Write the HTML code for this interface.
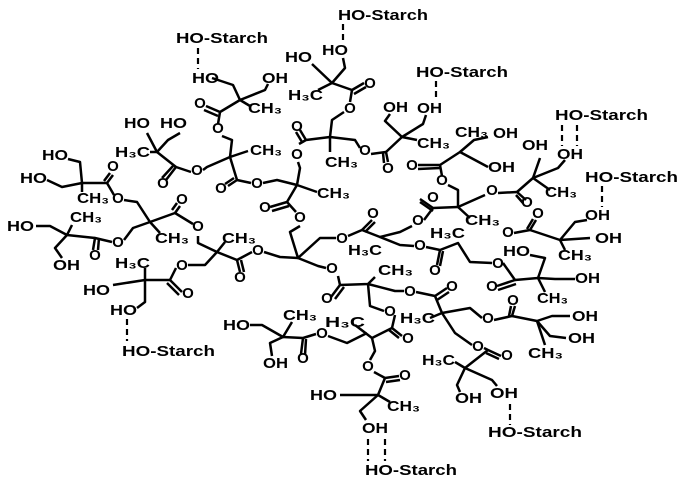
<!DOCTYPE html>
<html><head><meta charset="utf-8"><style>
html,body{margin:0;padding:0;background:#fff;width:691px;height:478px;overflow:hidden}
svg{display:block}
text{font-family:"Liberation Sans","DejaVu Sans",sans-serif;font-weight:bold;font-size:15px;fill:#000}
.m{text-anchor:middle}
polyline,line{stroke:#000;stroke-width:2.5;fill:none;stroke-linejoin:round}
.d{stroke-dasharray:6 4;stroke-width:2.2}
</style></head><body>
<svg width="691" height="478" viewBox="0 0 691 478" xmlns="http://www.w3.org/2000/svg">
<text x="338" y="20" textLength="90" lengthAdjust="spacingAndGlyphs">HO-Starch</text>
<text x="176" y="43" textLength="92" lengthAdjust="spacingAndGlyphs">HO-Starch</text>
<text x="416" y="77" textLength="92" lengthAdjust="spacingAndGlyphs">HO-Starch</text>
<text x="555" y="120" textLength="93" lengthAdjust="spacingAndGlyphs">HO-Starch</text>
<text x="585" y="182" textLength="93" lengthAdjust="spacingAndGlyphs">HO-Starch</text>
<text x="122" y="356" textLength="93" lengthAdjust="spacingAndGlyphs">HO-Starch</text>
<text x="488" y="437" textLength="94" lengthAdjust="spacingAndGlyphs">HO-Starch</text>
<text x="365" y="475" textLength="92" lengthAdjust="spacingAndGlyphs">HO-Starch</text>
<line class="d" x1="343" y1="24" x2="343" y2="42"/>
<line class="d" x1="198" y1="48" x2="198" y2="69"/>
<line class="d" x1="436" y1="81" x2="436" y2="100"/>
<line class="d" x1="562" y1="125" x2="562" y2="146"/>
<line class="d" x1="577" y1="125" x2="577" y2="146"/>
<line class="d" x1="602" y1="186" x2="602" y2="207"/>
<line class="d" x1="127" y1="319" x2="127" y2="341"/>
<line class="d" x1="510" y1="404" x2="510" y2="425"/>
<line class="d" x1="368" y1="439" x2="368" y2="461"/>
<line class="d" x1="385" y1="439" x2="385" y2="461"/>
<g>
<text x="322" y="55" textLength="26" lengthAdjust="spacingAndGlyphs">HO</text>
<text x="285" y="62" textLength="27" lengthAdjust="spacingAndGlyphs">HO</text>
<text x="288" y="100" textLength="35" lengthAdjust="spacingAndGlyphs">H₃C</text>
<text x="383" y="112" textLength="25" lengthAdjust="spacingAndGlyphs">OH</text>
<text x="417" y="113" textLength="25" lengthAdjust="spacingAndGlyphs">OH</text>
<text x="325" y="167" textLength="33" lengthAdjust="spacingAndGlyphs">CH₃</text>
<text x="417" y="148" textLength="33" lengthAdjust="spacingAndGlyphs">CH₃</text>
<text x="192" y="83" textLength="27" lengthAdjust="spacingAndGlyphs">HO</text>
<text x="262" y="83" textLength="26" lengthAdjust="spacingAndGlyphs">OH</text>
<text x="248" y="113" textLength="34" lengthAdjust="spacingAndGlyphs">CH₃</text>
<text x="124" y="128" textLength="26" lengthAdjust="spacingAndGlyphs">HO</text>
<text x="160" y="128" textLength="27" lengthAdjust="spacingAndGlyphs">HO</text>
<text x="115" y="157" textLength="35" lengthAdjust="spacingAndGlyphs">H₃C</text>
<text x="250" y="155" textLength="32" lengthAdjust="spacingAndGlyphs">CH₃</text>
<text x="42" y="160" textLength="26" lengthAdjust="spacingAndGlyphs">HO</text>
<text x="20" y="183" textLength="27" lengthAdjust="spacingAndGlyphs">HO</text>
<text x="77" y="203" textLength="32" lengthAdjust="spacingAndGlyphs">CH₃</text>
<text x="7" y="231" textLength="27" lengthAdjust="spacingAndGlyphs">HO</text>
<text x="70" y="222" textLength="32" lengthAdjust="spacingAndGlyphs">CH₃</text>
<text x="155" y="243" textLength="34" lengthAdjust="spacingAndGlyphs">CH₃</text>
<text x="222" y="243" textLength="34" lengthAdjust="spacingAndGlyphs">CH₃</text>
<text x="317" y="198" textLength="33" lengthAdjust="spacingAndGlyphs">CH₃</text>
<text x="53" y="270" textLength="27" lengthAdjust="spacingAndGlyphs">OH</text>
<text x="115" y="268" textLength="35" lengthAdjust="spacingAndGlyphs">H₃C</text>
<text x="83" y="295" textLength="27" lengthAdjust="spacingAndGlyphs">HO</text>
<text x="110" y="315" textLength="27" lengthAdjust="spacingAndGlyphs">HO</text>
<text x="455" y="137" textLength="33" lengthAdjust="spacingAndGlyphs">CH₃</text>
<text x="493" y="138" textLength="25" lengthAdjust="spacingAndGlyphs">OH</text>
<text x="522" y="150" textLength="26" lengthAdjust="spacingAndGlyphs">OH</text>
<text x="557" y="159" textLength="26" lengthAdjust="spacingAndGlyphs">OH</text>
<text x="488" y="172" textLength="27" lengthAdjust="spacingAndGlyphs">OH</text>
<text x="545" y="197" textLength="32" lengthAdjust="spacingAndGlyphs">CH₃</text>
<text x="585" y="220" textLength="25" lengthAdjust="spacingAndGlyphs">OH</text>
<text x="465" y="225" textLength="35" lengthAdjust="spacingAndGlyphs">CH₃</text>
<text x="430" y="238" textLength="35" lengthAdjust="spacingAndGlyphs">H₃C</text>
<text x="348" y="255" textLength="34" lengthAdjust="spacingAndGlyphs">H₃C</text>
<text x="595" y="243" textLength="27" lengthAdjust="spacingAndGlyphs">OH</text>
<text x="503" y="256" textLength="27" lengthAdjust="spacingAndGlyphs">HO</text>
<text x="558" y="260" textLength="34" lengthAdjust="spacingAndGlyphs">CH₃</text>
<text x="575" y="283" textLength="25" lengthAdjust="spacingAndGlyphs">OH</text>
<text x="537" y="303" textLength="31" lengthAdjust="spacingAndGlyphs">CH₃</text>
<text x="378" y="275" textLength="35" lengthAdjust="spacingAndGlyphs">CH₃</text>
<text x="400" y="323" textLength="35" lengthAdjust="spacingAndGlyphs">H₃C</text>
<text x="572" y="321" textLength="26" lengthAdjust="spacingAndGlyphs">OH</text>
<text x="568" y="343" textLength="27" lengthAdjust="spacingAndGlyphs">OH</text>
<text x="528" y="358" textLength="35" lengthAdjust="spacingAndGlyphs">CH₃</text>
<text x="223" y="330" textLength="27" lengthAdjust="spacingAndGlyphs">HO</text>
<text x="283" y="320" textLength="34" lengthAdjust="spacingAndGlyphs">CH₃</text>
<text x="325" y="327" textLength="40" lengthAdjust="spacingAndGlyphs">H₃C</text>
<text x="263" y="368" textLength="25" lengthAdjust="spacingAndGlyphs">OH</text>
<text x="422" y="365" textLength="33" lengthAdjust="spacingAndGlyphs">H₃C</text>
<text x="455" y="403" textLength="27" lengthAdjust="spacingAndGlyphs">OH</text>
<text x="490" y="398" textLength="28" lengthAdjust="spacingAndGlyphs">OH</text>
<text x="387" y="411" textLength="33" lengthAdjust="spacingAndGlyphs">CH₃</text>
<text x="362" y="433" textLength="26" lengthAdjust="spacingAndGlyphs">OH</text>
<text x="310" y="400" textLength="27" lengthAdjust="spacingAndGlyphs">HO</text>
</g>
<g>
<text class="m" x="370" y="88">O</text><text class="m" x="350" y="113">O</text>
<text class="m" x="297" y="131">O</text><text class="m" x="297" y="159">O</text>
<text class="m" x="365" y="155">O</text><text class="m" x="388" y="173">O</text>
<text class="m" x="412" y="170">O</text>
<text class="m" x="200" y="108">O</text><text class="m" x="218" y="133">O</text>
<text class="m" x="113" y="171">O</text><text class="m" x="118" y="203">O</text>
<text class="m" x="163" y="188">O</text><text class="m" x="197" y="175">O</text>
<text class="m" x="221" y="193">O</text><text class="m" x="257" y="188">O</text>
<text class="m" x="182" y="204">O</text><text class="m" x="198" y="231">O</text>
<text class="m" x="118" y="247">O</text><text class="m" x="95" y="260">O</text>
<text class="m" x="265" y="212">O</text><text class="m" x="300" y="222">O</text>
<text class="m" x="258" y="255">O</text><text class="m" x="240" y="282">O</text>
<text class="m" x="182" y="270">O</text><text class="m" x="188" y="298">O</text>
<text class="m" x="342" y="243">O</text><text class="m" x="373" y="218">O</text>
<text class="m" x="418" y="225">O</text><text class="m" x="420" y="250">O</text>
<text class="m" x="433" y="202">O</text>
<text class="m" x="442" y="185">O</text><text class="m" x="492" y="195">O</text>
<text class="m" x="527" y="207">O</text>
<text class="m" x="508" y="237">O</text><text class="m" x="538" y="218">O</text>
<text class="m" x="435" y="275">O</text>
<text class="m" x="498" y="268">O</text><text class="m" x="492" y="291">O</text>
<text class="m" x="332" y="273">O</text><text class="m" x="327" y="303">O</text>
<text class="m" x="410" y="296">O</text><text class="m" x="452" y="291">O</text>
<text class="m" x="390" y="316">O</text><text class="m" x="488" y="323">O</text>
<text class="m" x="513" y="305">O</text>
<text class="m" x="408" y="343">O</text><text class="m" x="478" y="351">O</text>
<text class="m" x="507" y="360">O</text>
<text class="m" x="322" y="338">O</text><text class="m" x="303" y="363">O</text>
<text class="m" x="368" y="371">O</text><text class="m" x="405" y="380">O</text>
</g>
<g>
<polyline points="343,58 345,68 332,83 312,64"/>
<polyline points="318,90 332,83 352,90 350,102"/>
<polyline points="352,90 364,83"/><polyline points="354,94 366,87"/>
<polyline points="344,112 332,120 330,137 330,152"/>
<polyline points="330,137 306,140 299,144"/>
<polyline points="306,140 300,130"/><polyline points="302,142 296,132"/>
<polyline points="330,137 355,140 360,148"/>
<polyline points="371,154 386,152 388,162"/><polyline points="383,153 384,163"/>
<polyline points="386,152 402,137 417,140"/>
<polyline points="402,137 385,121 390,114"/>
<polyline points="402,137 423,124 426,115"/>
<polyline points="212,78 233,85 240,100 265,90 268,84"/>
<polyline points="240,100 250,106"/>
<polyline points="240,100 220,112 218,124"/>
<polyline points="220,112 206,106"/><polyline points="218,116 204,110"/>
<polyline points="222,136 232,140 230,157 248,151"/>
<polyline points="230,157 237,180 228,186"/><polyline points="234,178 225,184"/>
<polyline points="237,180 251,183"/>
<polyline points="230,157 207,167 203,170"/>
<polyline points="191,172 176,167 166,180"/><polyline points="173,166 162,178"/>
<polyline points="176,167 157,152 147,133"/>
<polyline points="157,152 168,140 180,133"/>
<polyline points="150,152 157,152"/>
<polyline points="263,183 277,180 297,185 317,192"/>
<polyline points="297,185 287,202 270,207"/><polyline points="289,206 272,211"/>
<polyline points="287,202 296,212"/>
<polyline points="297,185 300,168 298,162"/>
<polyline points="300,226 290,232 298,258 320,238 336,238"/>
<polyline points="298,258 280,257 264,252"/>
<polyline points="298,258 318,266 326,268"/>
<polyline points="68,159 80,162 82,183 107,183 113,175"/><polyline points="104,181 110,173"/>
<polyline points="47,180 62,187 82,183 82,192"/>
<polyline points="107,183 114,195"/>
<polyline points="124,200 137,202 150,222 175,213 180,206"/><polyline points="172,210 177,203"/>
<polyline points="175,213 193,224"/>
<polyline points="150,222 160,233"/>
<polyline points="150,222 133,228 124,240"/>
<polyline points="112,242 95,238 93,250"/><polyline points="99,238 98,250"/>
<polyline points="95,238 67,235 72,225"/>
<polyline points="67,235 50,226 36,226"/>
<polyline points="67,235 55,248 62,258"/>
<polyline points="198,236 198,243 217,252 225,242"/>
<polyline points="217,252 237,260 252,252"/>
<polyline points="237,260 240,272"/><polyline points="241,260 244,272"/>
<polyline points="217,252 205,265 188,265"/>
<polyline points="176,268 170,280 182,292"/><polyline points="167,283 179,295"/>
<polyline points="170,280 145,280 145,268"/>
<polyline points="145,280 113,285"/>
<polyline points="145,280 145,302 137,308"/>
<polyline points="488,137 474,140 460,152 488,167"/>
<polyline points="460,152 440,165 418,165"/><polyline points="440,168 418,169"/>
<polyline points="440,165 442,176"/>
<polyline points="448,185 458,190 458,207 470,218"/>
<polyline points="458,207 433,208 420,199"/><polyline points="433,211 420,202"/>
<polyline points="433,208 424,220"/>
<polyline points="458,207 485,195"/>
<polyline points="498,193 517,192 526,200"/><polyline points="516,195 523,203"/>
<polyline points="517,192 533,178 540,158"/>
<polyline points="533,178 558,168 565,160"/>
<polyline points="533,178 550,190"/>
<polyline points="412,226 400,232 380,237 362,230 348,236"/>
<polyline points="362,230 372,220"/><polyline points="365,232 375,222"/>
<polyline points="380,237 400,245 414,246"/>
<polyline points="426,247 440,250 458,243 470,262 492,263"/>
<polyline points="440,250 437,265"/><polyline points="443,251 440,266"/>
<polyline points="514,233 530,230 560,240 590,238"/>
<polyline points="530,230 536,220"/><polyline points="527,229 533,219"/>
<polyline points="560,240 575,222 587,220"/>
<polyline points="560,240 565,250"/>
<polyline points="503,263 515,280 538,278 545,258 530,255"/>
<polyline points="515,280 497,286"/><polyline points="516,284 498,290"/>
<polyline points="538,278 555,279 575,279"/>
<polyline points="538,278 545,292"/>
<polyline points="338,276 340,285 368,284 375,277"/>
<polyline points="340,285 331,297"/><polyline points="344,287 335,299"/>
<polyline points="368,284 395,291 404,291"/>
<polyline points="416,292 435,296 447,288"/><polyline points="437,300 449,292"/>
<polyline points="435,296 442,313 470,308 482,318"/>
<polyline points="442,313 430,318"/>
<polyline points="494,320 512,316 515,306"/><polyline points="509,316 511,306"/>
<polyline points="512,316 537,321 552,316 570,316"/>
<polyline points="537,321 550,336 566,338"/>
<polyline points="537,321 545,345"/>
<polyline points="442,313 455,333 472,345"/>
<polyline points="484,348 488,350 501,356"/><polyline points="486,353 499,359"/>
<polyline points="488,350 465,368 455,362"/>
<polyline points="465,368 457,385 460,392"/>
<polyline points="465,368 492,380 497,386"/>
<polyline points="368,284 370,306 384,311"/>
<polyline points="395,315 392,328 402,336"/><polyline points="389,330 399,338"/>
<polyline points="392,328 372,338 355,325"/>
<polyline points="372,338 375,351 370,360"/>
<polyline points="374,372 385,378 399,376"/><polyline points="386,382 400,380"/>
<polyline points="385,378 378,395 390,402"/>
<polyline points="378,395 360,411 366,420"/>
<polyline points="378,395 340,395"/>
<polyline points="250,325 262,325 283,337 292,322"/>
<polyline points="283,337 270,343 272,356"/>
<polyline points="283,337 303,338 316,334"/>
<polyline points="303,338 301,354"/><polyline points="306,339 305,355"/>
<polyline points="328,336 347,343 367,333"/>
</g>
</svg>
</body></html>
